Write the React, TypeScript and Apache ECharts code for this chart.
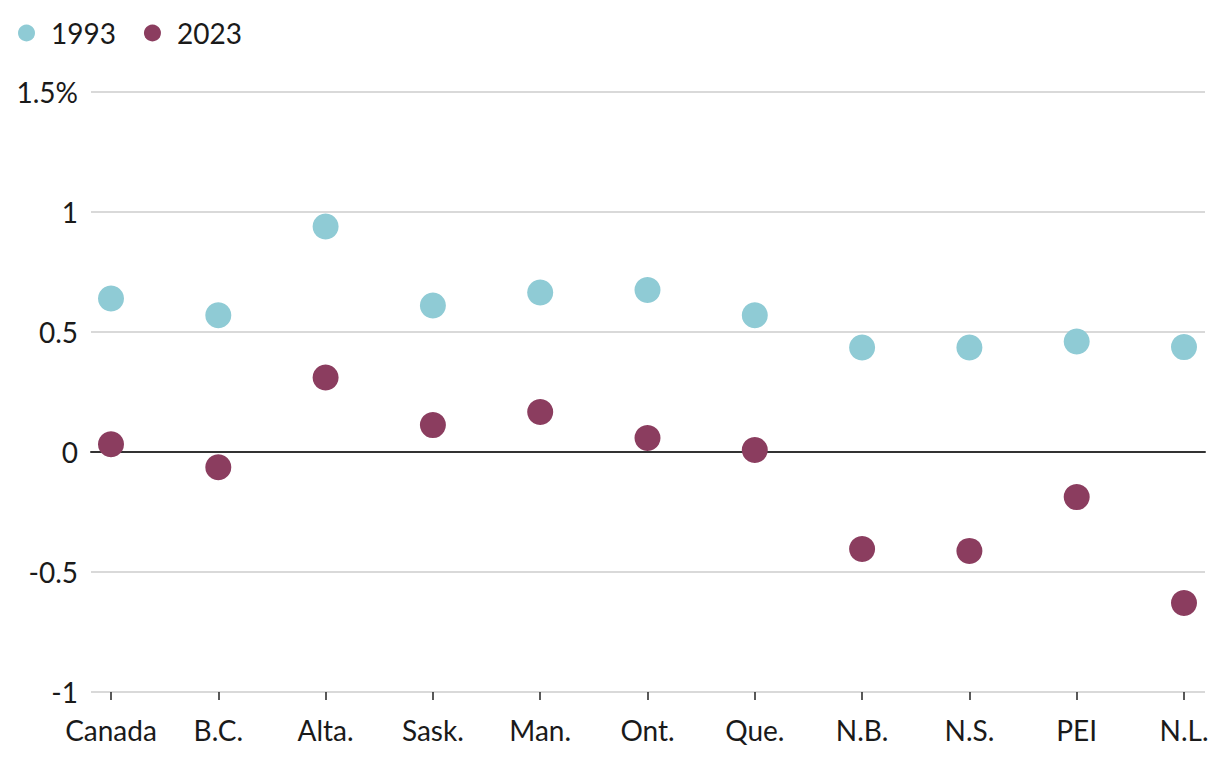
import React, { useEffect, useRef } from "react";
import * as echarts from "echarts";

const categories = ["Canada", "B.C.", "Alta.", "Sask.", "Man.", "Ont.", "Que.", "N.B.", "N.S.", "PEI", "N.L."];
const values1993 = [0.64, 0.57, 0.94, 0.61, 0.665, 0.675, 0.57, 0.435, 0.435, 0.46, 0.437];
const values2023 = [0.032, -0.064, 0.31, 0.112, 0.167, 0.058, 0.008, -0.404, -0.412, -0.188, -0.629];
const yTicks = [-1, -0.5, 0, 0.5, 1, 1.5];

const FONT = "Lato";
const TEAL = "#8fcbd5";
const MAROON = "#8b3d5f";

export default function App() {
  const ref = useRef<HTMLDivElement>(null);
  useEffect(() => {
    if (!ref.current) return;
    const chart = echarts.init(ref.current, null, { renderer: "svg" });
    const yMin = yTicks[0];
    const yMax = yTicks[yTicks.length - 1];
    chart.setOption({
      animation: false,
      backgroundColor: "#fff",
      textStyle: { fontFamily: FONT },
      legend: {
        left: 13,
        top: 14,
        icon: "circle",
        itemWidth: 17,
        itemHeight: 17,
        itemGap: 28,
        textStyle: { fontSize: 28, color: "#1a1a1a", fontFamily: FONT, padding: [0, 0, 0, 11] },
        data: ["1993", "2023"],
      },
      grid: [
        { left: 91, right: 15, top: 92, bottom: 68 },
        { left: 111, right: 36, top: 92, bottom: 68 },
      ],
      xAxis: [
        {
          gridIndex: 0,
          type: "value",
          min: 0,
          max: 1,
          axisLine: { show: true, onZero: true, lineStyle: { color: "#333", width: 2 } },
          axisTick: { show: false },
          axisLabel: { show: false },
          splitLine: { show: false },
        },
        {
          gridIndex: 1,
          type: "category",
          data: categories,
          boundaryGap: false,
          axisLine: { show: false, onZero: false },
          axisTick: { show: true, interval: 0, length: 8, lineStyle: { color: "#222", width: 1.5 } },
          axisLabel: { interval: 0, fontSize: 28, color: "#1a1a1a", margin: 24, fontFamily: FONT },
          splitLine: { show: false },
        },
      ],
      yAxis: [
        {
          gridIndex: 0,
          type: "value",
          min: yMin,
          max: yMax,
          interval: 0.5,
          axisLine: { show: false },
          axisTick: { show: false },
          axisLabel: {
            fontSize: 28,
            color: "#1a1a1a",
            margin: 13,
            fontFamily: FONT,
            formatter: (v: number) => (v === yMax ? `${v}%` : `${v}`),
          },
          splitLine: { show: true, lineStyle: { color: "#cccccc", width: 1.5 } },
        },
        {
          gridIndex: 1,
          type: "value",
          min: yMin,
          max: yMax,
          interval: 0.5,
          show: false,
          splitLine: { show: false },
        },
      ],
      series: [
        {
          name: "1993",
          type: "scatter",
          xAxisIndex: 1,
          yAxisIndex: 1,
          symbolSize: 26,
          itemStyle: { color: TEAL, opacity: 1 },
          data: values1993,
          z: 3,
        },
        {
          name: "2023",
          type: "scatter",
          xAxisIndex: 1,
          yAxisIndex: 1,
          symbolSize: 26,
          itemStyle: { color: MAROON, opacity: 1 },
          data: values2023,
          z: 4,
        },
      ],
    });
    return () => chart.dispose();
  }, []);
  return <div ref={ref} style={{ position: "fixed", left: 0, top: 0, width: 1220, height: 760 }} />;
}
